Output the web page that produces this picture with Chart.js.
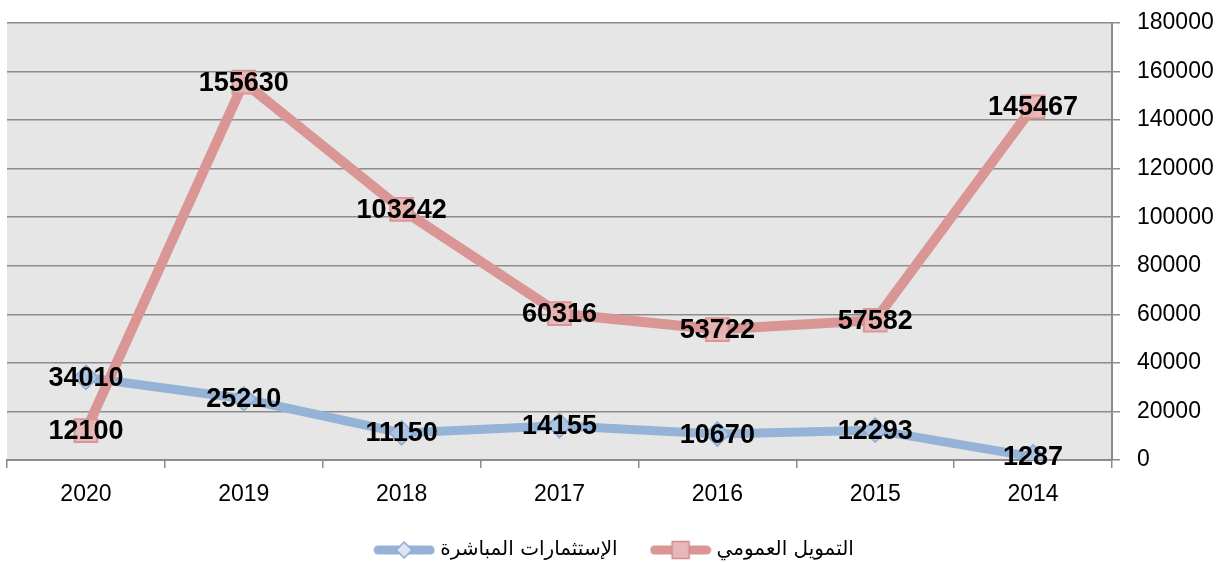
<!DOCTYPE html>
<html>
<head>
<meta charset="utf-8">
<script src="https://cdn.jsdelivr.net/npm/chart.js@4/dist/chart.umd.min.js"></script>
<style>
  html, body { margin: 0; padding: 0; background: #fff; }
  #wrap { width: 1225px; height: 563px; }
</style>
</head>
<body>
<div id="wrap"><canvas id="chart" width="1225" height="563"></canvas></div>
<script>
// Data (categories stored oldest first, axis is reversed like the original)
const years = ['2014', '2015', '2016', '2017', '2018', '2019', '2020'];
const publicFunding = [145467, 57582, 53722, 60316, 103242, 155630, 12100];
const directInvest = [1287, 12293, 10670, 14155, 11150, 25210, 34010];
const seriesNames = ['التمويل العمومي', 'الإستثمارات المباشرة'];
const yMax = 180000;
const yStep = 20000;

const RED = '#d99694';
const BLUE = '#95b3d7';

// legend icon: thick line with the marker in the middle
function legendIcon(lineColor, fill, border, shape) {
    const c = document.createElement('canvas');
    c.width = 62;
    c.height = 20;
    const g = c.getContext('2d');
    g.strokeStyle = lineColor;
    g.lineWidth = 9;
    g.lineCap = 'round';
    g.beginPath();
    g.moveTo(5, 10);
    g.lineTo(57, 10);
    g.stroke();
    g.fillStyle = fill;
    g.strokeStyle = border;
    g.lineWidth = 1.5;
    g.beginPath();
    if (shape === 'rect') {
        g.rect(22.5, 1.5, 17, 17);
    } else {
        g.moveTo(31, 2);
        g.lineTo(39, 10);
        g.lineTo(31, 18);
        g.lineTo(23, 10);
        g.closePath();
    }
    g.fill();
    g.stroke();
    return c;
}

// gray plot area
const plotBackground = {
    id: 'plotBackground',
    beforeDraw(chart) {
        const {ctx, chartArea} = chart;
        ctx.save();
        ctx.fillStyle = '#e6e6e6';
        ctx.fillRect(chartArea.left, chartArea.top, chartArea.right - chartArea.left, chartArea.bottom - chartArea.top);
        ctx.restore();
    }
};

// bold value labels centred on each point
const valueLabels = {
    id: 'valueLabels',
    afterDatasetsDraw(chart) {
        const ctx = chart.ctx;
        ctx.save();
        ctx.font = 'bold 27px "Liberation Sans", Arial, sans-serif';
        ctx.fillStyle = '#000';
        ctx.textAlign = 'center';
        ctx.textBaseline = 'middle';
        chart.data.datasets.forEach((ds, i) => {
            const meta = chart.getDatasetMeta(i);
            meta.data.forEach((pt, j) => {
                ctx.fillText(String(ds.data[j]), pt.x, pt.y + 1);
            });
        });
        ctx.restore();
    }
};

const icons = [
    legendIcon(RED, '#e6b9b8', '#d28d8b', 'rect'),
    legendIcon(BLUE, '#dce6f2', '#8eabd0', 'diamond')
];

new Chart(document.getElementById('chart'), {
    type: 'line',
    data: {
        labels: years,
        datasets: [{
            label: seriesNames[0],
            data: publicFunding,
            borderColor: RED,
            borderWidth: 10,
            pointStyle: 'rect',
            pointRadius: 16,
            pointBackgroundColor: 'rgba(232, 180, 179, 0.9)',
            pointBorderColor: '#d99694',
            pointBorderWidth: 2,
            tension: 0
        }, {
            label: seriesNames[1],
            data: directInvest,
            borderColor: BLUE,
            borderWidth: 9,
            pointStyle: 'rectRot',
            pointRadius: 12,
            pointBackgroundColor: 'rgba(170, 196, 228, 0.9)',
            pointBorderColor: '#8eabd0',
            pointBorderWidth: 1.5,
            tension: 0
        }]
    },
    options: {
        responsive: false,
        animation: false,
        layout: {
            autoPadding: false,
            padding: { top: 23, left: 7, right: 0, bottom: -7 }
        },
        plugins: {
            tooltip: { enabled: false },
            legend: {
                position: 'bottom',
                labels: {
                    usePointStyle: true,
                    pointStyleWidth: 52,
                    padding: 37,
                    color: '#000',
                    font: { family: '"DejaVu Sans", sans-serif', size: 20 },
                    sort: (a, b) => b.datasetIndex - a.datasetIndex,
                    generateLabels: function(chart) {
                        return chart.data.datasets.map((ds, i) => ({
                            text: ds.label,
                            datasetIndex: i,
                            pointStyle: icons[i],
                            fillStyle: ds.borderColor,
                            strokeStyle: ds.borderColor,
                            lineWidth: 0,
                            hidden: false
                        }));
                    }
                }
            }
        },
        scales: {
            x: {
                reverse: true,
                offset: true,
                afterFit: function(scale) {
                    scale.height = 43;
                    scale.paddingLeft = 0;
                    scale.paddingRight = 0;
                },
                grid: {
                    offset: true,
                    drawOnChartArea: false,
                    tickLength: 8,
                    color: '#8c8c8c',
                    lineWidth: 1.5
                },
                border: { color: '#8c8c8c', width: 2 },
                ticks: {
                    padding: 13,
                    color: '#000',
                    font: { family: '"Liberation Sans", Arial, sans-serif', size: 23 }
                }
            },
            y: {
                position: 'right',
                min: 0,
                max: yMax,
                afterFit: function(scale) {
                    scale.width = 113;
                    scale.paddingTop = 0;
                    scale.paddingBottom = 0;
                },
                grid: {
                    tickLength: 8,
                    color: '#8c8c8c',
                    lineWidth: 1.5
                },
                border: { color: '#8c8c8c', width: 2 },
                ticks: {
                    stepSize: yStep,
                    padding: 17,
                    color: '#000',
                    font: { family: '"Liberation Sans", Arial, sans-serif', size: 23 },
                    callback: function(value) {
                        return String(value);
                    }
                }
            }
        }
    },
    plugins: [plotBackground, valueLabels]
});
</script>
</body>
</html>
